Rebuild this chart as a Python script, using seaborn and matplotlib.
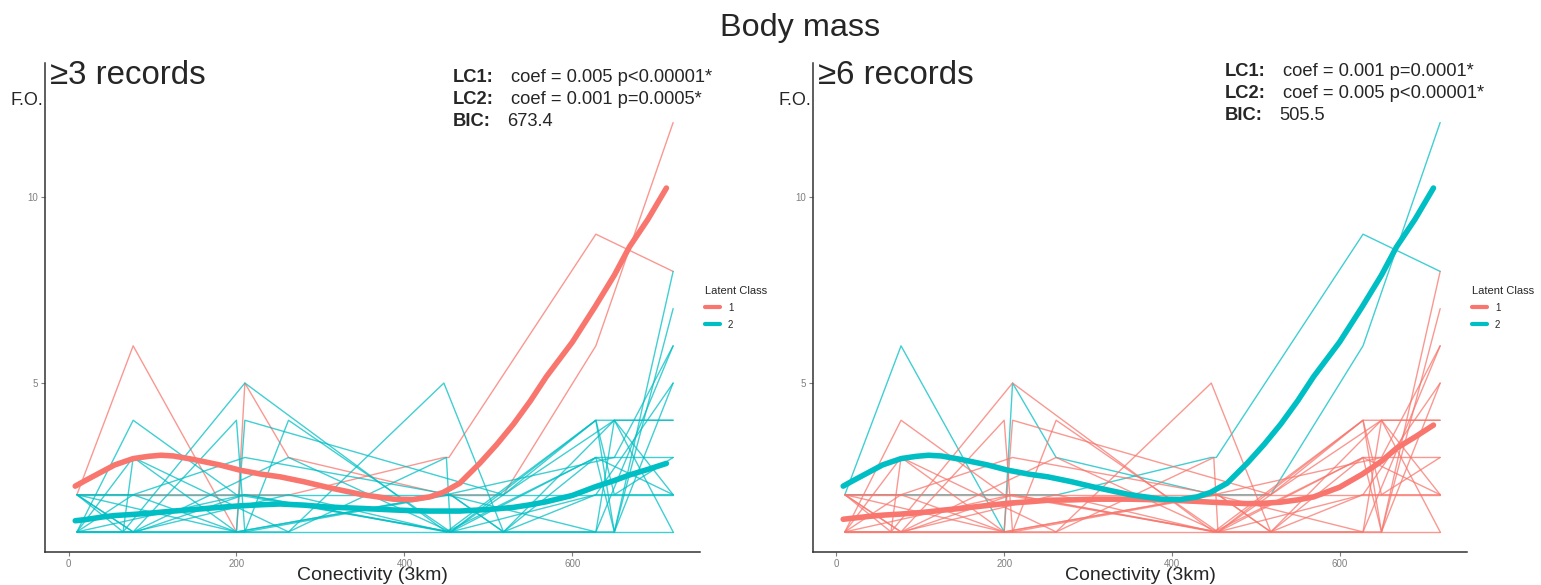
import numpy as np
import pandas as pd
import matplotlib
matplotlib.use('Agg')
import matplotlib.pyplot as plt
import seaborn as sns
from matplotlib.lines import Line2D

# colours used by ggplot for two groups
RED = '#F8766D'
TEAL = '#00BFC4'

# individual trajectories (conectivity, F.O.)
traj_x = [
    [10, 77, 200, 210, 262, 450, 518, 628, 720],
    [10, 65, 264, 447, 453, 628, 720],
    [10, 720],
    [10, 720],
    [10, 77, 200, 455, 628, 720],
    [10, 65, 210, 450, 650, 720],
    [10, 77, 200, 210, 518, 628, 650, 720],
    [10, 77, 200, 210, 262, 455, 628, 720],
    [10, 65, 77, 262, 447, 518, 650, 720],
    [10, 77, 200, 262, 450, 455, 628, 720],
    [10, 77, 210, 455, 518, 628, 650, 720],
    [65, 200, 450, 628, 650, 720],
    [10, 80, 210, 455, 628, 720],
    [10, 77, 262, 450, 628, 650, 720],
    [10, 210, 455, 518, 628, 720],
    [10, 200, 450, 650, 720],
    [77, 262, 455, 518, 650, 720],
    [10, 210, 450, 628, 720],
]
traj_y = [
    [2, 6, 1, 5, 3, 2, 2, 6, 12],
    [2, 2, 2, 3, 3, 9, 8],
    [1, 1],
    [2, 2],
    [1, 4, 2, 1, 4, 4],
    [2, 1, 5, 1, 1, 8],
    [1, 3, 1, 4, 2, 4, 1, 5],
    [2, 1, 4, 1, 4, 1, 3, 3],
    [1, 1, 3, 1, 5, 1, 4, 4],
    [2, 2, 1, 1, 3, 1, 1, 6],
    [1, 2, 3, 2, 1, 3, 1, 7],
    [1, 1, 2, 1, 4, 2],
    [1, 1, 2, 1, 2, 5],
    [2, 1, 2, 1, 4, 2, 3],
    [1, 1, 2, 1, 2, 2],
    [2, 1, 2, 3, 6],
    [1, 3, 1, 2, 4, 1],
    [1, 2, 1, 3, 2],
]
class_3rec = ['1', '1'] + ['2'] * 16
class_6rec = ['2', '2'] + ['1'] * 16

# smoothed class means
smooth_x = [8, 20, 40, 55, 77, 95, 110, 125, 148, 180, 204, 230, 252, 280,
            308, 350, 387, 410, 430, 446, 466, 490, 510, 530, 550, 569, 600,
            627, 650, 668, 690, 712]
steep_y = [2.23, 2.38, 2.62, 2.80, 2.97, 3.03, 3.06, 3.04, 2.95, 2.8, 2.66,
           2.55, 2.48, 2.35, 2.2, 2.0, 1.88, 1.87, 1.94, 2.06, 2.31, 2.85,
           3.35, 3.9, 4.52, 5.17, 6.1, 7.05, 7.9, 8.66, 9.4, 10.24]
flat_3rec_y = [1.30, 1.33, 1.40, 1.44, 1.47, 1.50, 1.53, 1.56, 1.60, 1.66,
               1.70, 1.73, 1.75, 1.72, 1.67, 1.63, 1.59, 1.57, 1.56, 1.56,
               1.56, 1.59, 1.62, 1.66, 1.73, 1.81, 1.98, 2.21, 2.38, 2.53,
               2.68, 2.84]
flat_6rec_y = [1.34, 1.37, 1.42, 1.45, 1.48, 1.51, 1.54, 1.58, 1.63, 1.71,
               1.77, 1.81, 1.85, 1.86, 1.88, 1.88, 1.86, 1.84, 1.82, 1.80,
               1.78, 1.76, 1.77, 1.80, 1.86, 1.94, 2.20, 2.55, 2.90, 3.25,
               3.55, 3.87]

panels = [
    {'title': '\u22653 records', 'classes': class_3rec,
     'curves': {'1': steep_y, '2': flat_3rec_y},
     'stats': [('LC1:', 'coef = 0.005 p<0.00001*'),
               ('LC2:', 'coef = 0.001 p=0.0005*'),
               ('BIC:', '673.4')]},
    {'title': '\u22656 records', 'classes': class_6rec,
     'curves': {'1': flat_6rec_y, '2': steep_y},
     'stats': [('LC1:', 'coef = 0.001 p=0.0001*'),
               ('LC2:', 'coef = 0.005 p<0.00001*'),
               ('BIC:', '505.5')]},
]

sns.set_style('white')
plt.rcParams['font.family'] = ['Liberation Sans', 'DejaVu Sans']
palette = {'1': RED, '2': TEAL}

fig = plt.figure(figsize=(15.41, 5.85), dpi=100)
W, H = 1541, 585

axes_pos = [(45, 700), (813, 1467)]
stat_pos = [(453, 511, 507, 77), (1225, 1283, 1279, 71)]

for i, p in enumerate(panels):
    x0, x1 = axes_pos[i]
    ax = fig.add_axes([x0 / W, (H - 552) / H, (x1 - x0) / W, (552 - 63) / H])

    rows = []
    for k, (xs, ys) in enumerate(zip(traj_x, traj_y)):
        for xv, yv in zip(xs, ys):
            rows.append({'id': k, 'x': xv, 'y': yv, 'cls': p['classes'][k]})
    df = pd.DataFrame(rows)
    sns.lineplot(data=df, x='x', y='y', hue='cls', units='id', estimator=None,
                 palette=palette, lw=1.0, alpha=0.75, legend=False, ax=ax)

    sm = pd.DataFrame({
        'x': smooth_x * 2,
        'y': p['curves']['1'] + p['curves']['2'],
        'cls': ['1'] * len(smooth_x) + ['2'] * len(smooth_x),
    })
    sns.lineplot(data=sm, x='x', y='y', hue='cls', palette=palette,
                 lw=4, legend=False, ax=ax)

    ax.set_xlim(-28, 752)
    ax.set_ylim(0.46, 13.6)
    ax.set_xticks([0, 200, 400, 600])
    ax.set_yticks([5, 10])
    ax.set_xlabel('')
    ax.set_ylabel('')
    ax.tick_params(length=3, width=0.8, colors='#7f7f7f', labelsize=7,
                   left=True, bottom=True, pad=2)
    for s in ['top', 'right']:
        ax.spines[s].set_visible(False)
    for s in ['left', 'bottom']:
        ax.spines[s].set_color('#333333')
        ax.spines[s].set_linewidth(1.1)

    handles = [Line2D([], [], color=RED, lw=3), Line2D([], [], color=TEAL, lw=3)]
    leg = ax.legend(handles, ['1', '2'], title='Latent Class', loc='upper left',
                    bbox_to_anchor=(0.995, 0.562), frameon=False, fontsize=7,
                    title_fontsize=8, handlelength=1.5, labelspacing=0.7,
                    handletextpad=0.8)
    leg._legend_box.align = 'left'

    # panel title, axis labels
    fig.text((x0 + 5) / W, 1 - 76 / H, p['title'], fontsize=23.8, va='center')
    fig.text((x0 - 35) / W, 1 - 100 / H, 'F.O.', fontsize=13, va='center')
    fig.text((x0 + x1) / 2 / W, 1 - 575 / H, 'Conectivity (3km)', fontsize=14,
             ha='center', va='center')

    # model stats
    bx, vx, bicx, y0 = stat_pos[i]
    for j, (lab, val) in enumerate(p['stats']):
        yy = 1 - (y0 + 22.5 * j) / H
        fig.text(bx / W, yy, lab, fontsize=13.2, fontweight='bold', va='center')
        fig.text((bicx if lab == 'BIC:' else vx) / W, yy, val, fontsize=13.2,
                 va='center')

fig.text(800 / W, 1 - 28 / H, 'Body mass', fontsize=23.3, ha='center', va='center')

fig.savefig('out.png', dpi=100)
